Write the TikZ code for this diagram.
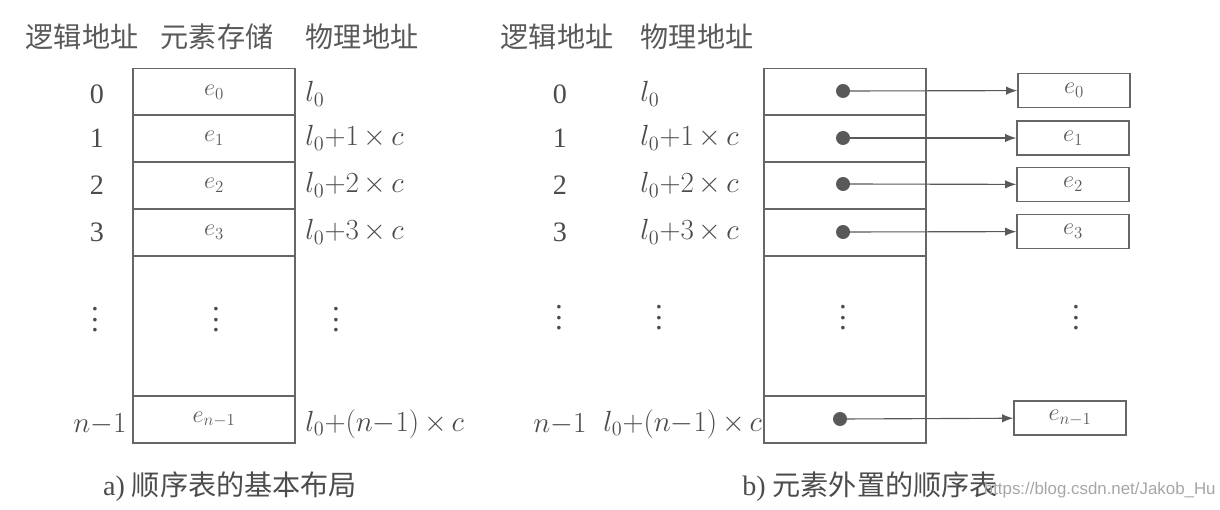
\documentclass[tikz,border=0pt]{standalone}
\usepackage{fontspec}
\setmainfont{Liberation Serif}
\setsansfont{Liberation Sans}
\newfontfamily\cjk{Noto Sans CJK SC}
\usetikzlibrary{arrows.meta}
\tikzstyle{cell} = [rectangle, draw=black!60, line width=1pt, minimum width=4.05cm,
    minimum height=1.175cm, inner sep=0pt, text=black!65, font=\fontsize{18}{20}\selectfont]
\tikzstyle{big} = [cell, minimum height=3.5cm]
\tikzstyle{ptr} = [circle, fill=black!65, minimum size=0.35cm, inner sep=0pt]
\tikzstyle{elem} = [rectangle, draw=black!60, line width=1pt, minimum width=2.8cm,
    minimum height=0.85cm, inner sep=0pt, text=black!65, font=\fontsize{18}{20}\selectfont]
\tikzstyle{link} = [->, draw=black!65, line width=0.8pt]
\tikzstyle{lbl} = [inner sep=0pt, text=black!70, font=\fontsize{20}{22}\selectfont]
\tikzstyle{vd} = [inner sep=0pt, text=black!70, font=\fontsize{22}{22}\selectfont]
\tikzstyle{hd} = [inner sep=0pt, text=black!65, font=\cjk\fontsize{20}{22}\selectfont]
\newcommand{\addr}[1]{$l_0{+}#1\,{\times}\,c$}
\newcommand{\vdts}{\vbox{\baselineskip=7.5pt \lineskiplimit=-5pt \hbox{.}\hbox{.}\hbox{.}}}

\begin{document}
\begin{tikzpicture}[x=0.025cm,y=-0.025cm,>={Latex[length=8pt,width=6pt]},semithick]
  \useasboundingbox (0,0) rectangle (1220,510);

  % a) basic layout
  \node[hd] (la) at (82,37)  {逻辑地址};
  \node[hd] (sa) at (217,37) {元素存储};
  \node[hd] (pa) at (362,37) {物理地址};

  \node[cell] (a0) at (214,92)    {$e_0$};
  \node[cell] (a1) at (214,138.5) {$e_1$};
  \node[cell] (a2) at (214,185.5) {$e_2$};
  \node[cell] (a3) at (214,232.5) {$e_3$};
  \node[big]  (ad) at (214,326)   {};
  \node[cell] (an) at (214,419.5) {$e_{n-1}$};
  \node[vd]   (add) at (216,320)  {\vdts};

  \node[lbl] (ia0) at (97,94)  {0};
  \node[lbl] (ia1) at (97,138) {1};
  \node[lbl] (ia2) at (97,185) {2};
  \node[lbl] (ia3) at (97,232) {3};
  \node[vd]  (iad) at (95,320) {\vdts};
  \node[lbl] (ian) at (100,424) {$n{-}1$};

  \node[lbl,anchor=west] (pa0) at (305,94)  {$l_0$};
  \node[lbl,anchor=west] (pa1) at (305,138) {\addr{1}};
  \node[lbl,anchor=west] (pa2) at (305,185) {\addr{2}};
  \node[lbl,anchor=west] (pa3) at (305,232) {\addr{3}};
  \node[vd]  (pad) at (336,320) {\vdts};
  \node[lbl,anchor=west] (pan) at (305,424) {\addr{(n{-}1)}};

  \node[lbl] (capa) at (230,487) {a) {\cjk 顺序表的基本布局}};

  % b) elements stored outside
  \node[hd] (lb) at (557,37) {逻辑地址};
  \node[hd] (pb) at (697,37) {物理地址};

  \node[lbl] (ib0) at (560,94)  {0};
  \node[lbl] (ib1) at (560,138) {1};
  \node[lbl] (ib2) at (560,185) {2};
  \node[lbl] (ib3) at (560,232) {3};
  \node[vd]  (ibd) at (559,318) {\vdts};
  \node[lbl] (ibn) at (560,424) {$n{-}1$};

  \node[lbl,anchor=west] (pb0) at (640,94)  {$l_0$};
  \node[lbl,anchor=west] (pb1) at (640,138) {\addr{1}};
  \node[lbl,anchor=west] (pb2) at (640,185) {\addr{2}};
  \node[lbl,anchor=west] (pb3) at (640,232) {\addr{3}};
  \node[vd]  (pbd) at (659,318) {\vdts};
  \node[lbl,anchor=west] (pbn) at (603,424) {\addr{(n{-}1)}};

  \node[cell] (b0) at (845,92)    {};
  \node[cell] (b1) at (845,138.5) {};
  \node[cell] (b2) at (845,185.5) {};
  \node[cell] (b3) at (845,232.5) {};
  \node[big]  (bd) at (845,326)   {};
  \node[cell] (bn) at (845,419.5) {};
  \node[vd]   (bdd) at (843,318)  {\vdts};

  \node[ptr] (d0) at (843,91)  {};
  \node[ptr] (d1) at (843,138) {};
  \node[ptr] (d2) at (843,184) {};
  \node[ptr] (d3) at (843,232) {};
  \node[ptr] (dn) at (840,419) {};

  \node[elem] (e0) at (1074,90.5) {$e_0$};
  \node[elem] (e1) at (1073,138)  {$e_1$};
  \node[elem] (e2) at (1073,184.5) {$e_2$};
  \node[elem] (e3) at (1073,231.5) {$e_3$};
  \node[vd]   (ed) at (1076,318)  {\vdts};
  \node[elem] (en) at (1070,418)  {$e_{n-1}$};

  \path (d0.center) edge[link] (e0)
  (d1.center) edge[link] (e1)
  (d2.center) edge[link] (e2)
  (d3.center) edge[link] (e3)
  (dn.center) edge[link] (en);

  \node[lbl] (capb) at (870,487) {b) {\cjk 元素外置的顺序表}};
  \node[inner sep=0pt,text=black!35,font=\sffamily\fontsize{12}{14}\selectfont,anchor=east]
    (wm) at (1216,490) {https://blog.csdn.net/Jakob\_Hu};
\end{tikzpicture}
\end{document}
